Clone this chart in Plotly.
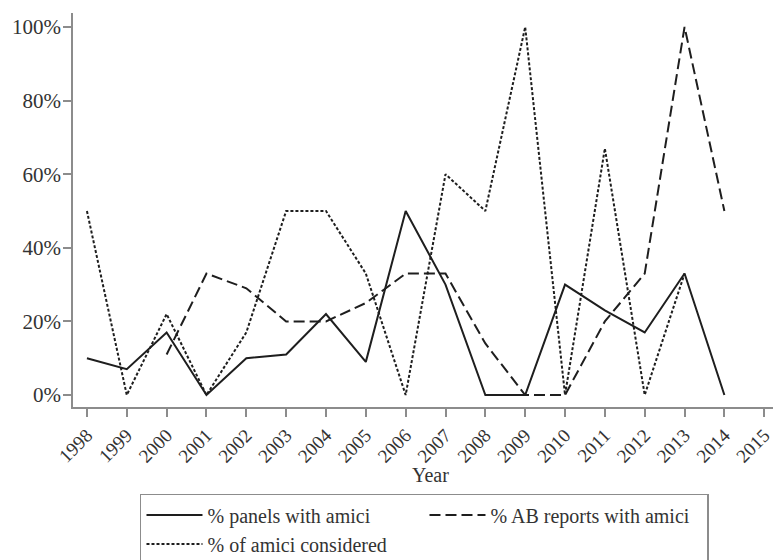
import plotly.graph_objects as go

years = list(range(1998, 2015))
panels = [10, 7, 17, 0, 10, 11, 22, 9, 50, 30, 0, 0, 30, 23, 17, 33, 0]
ab_reports = [None, None, 11, 33, 29, 20, 20, 25, 33, 33, 14, 0, 0, 20, 33, 100, 50]
amici_considered = [50, 0, 22, 0, 17, 50, 50, 33, 0, 60, 50, 100, 0, 67, 0, 33, None]

x_ticks = list(range(1998, 2016))
y_ticks = [0, 20, 40, 60, 80, 100]
y_labels = [f"{v}%" for v in y_ticks]

FONT = "Liberation Serif"
LINE = "#1e1e1e"
AXIS = "#8c8c8c"
TEXT = "#333333"

fig = go.Figure()
fig.add_trace(go.Scatter(x=years, y=panels, mode="lines", name="% panels with amici",
                         line=dict(color=LINE, width=2, dash="solid")))
fig.add_trace(go.Scatter(x=years, y=ab_reports, mode="lines", name="% AB reports with amici",
                         line=dict(color=LINE, width=2, dash="11px,5px")))
fig.add_trace(go.Scatter(x=years, y=amici_considered, mode="lines", name="% of amici considered",
                         line=dict(color=LINE, width=2, dash="3px,2px")))

fig.update_layout(
    width=773, height=560,
    margin=dict(l=73, r=0, t=13, b=153, autoexpand=False),
    paper_bgcolor="white", plot_bgcolor="white",
    font=dict(family=FONT, size=21, color=TEXT),
    legend=dict(orientation="h", xref="container", yref="container",
                x=0.1811, xanchor="left", y=0.1179, yanchor="top",
                bordercolor=AXIS, borderwidth=1.5, entrywidth=212, entrywidthmode="pixels",
                itemwidth=56, font=dict(family=FONT, size=20, color=TEXT), bgcolor="white"),
    showlegend=True,
    annotations=[dict(text="Year", xref="paper", yref="paper", x=0.51, y=-0.1726,
                      xanchor="center", yanchor="middle", showarrow=False,
                      font=dict(family=FONT, size=20, color=TEXT))],
)
fig.update_xaxes(range=[1997.65, 2015.22], tickvals=x_ticks, ticktext=[str(v) for v in x_ticks],
                 tickangle=-45, showline=True, linecolor=AXIS, linewidth=1.5,
                 ticks="outside", ticklen=8, tickcolor=AXIS, tickwidth=1.5,
                 showgrid=False, zeroline=False, automargin=False, ticklabeloverflow="allow",
                 tickfont=dict(family=FONT, size=19, color=TEXT))
fig.update_yaxes(range=[-3.26, 103.8], tickvals=y_ticks, ticktext=y_labels,
                 showline=True, linecolor=AXIS, linewidth=1.5,
                 ticks="outside", ticklen=8, tickcolor=AXIS, tickwidth=1.5,
                 showgrid=False, zeroline=False, automargin=False, ticklabelstandoff=-2,
                 tickfont=dict(family=FONT, size=21, color=TEXT))

fig.write_html("out.html", config={"displayModeBar": False},
               post_script="document.body.style.margin='0';document.body.style.overflow='hidden';")
